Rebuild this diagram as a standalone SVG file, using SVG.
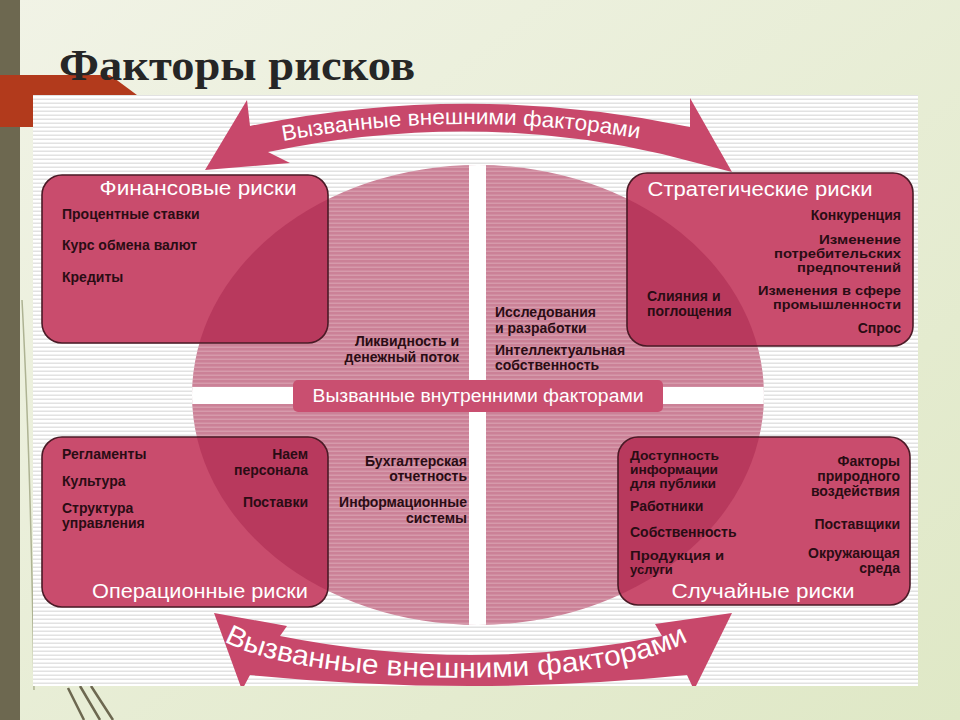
<svg xmlns="http://www.w3.org/2000/svg" width="960" height="720" viewBox="0 0 960 720">
<defs>
<linearGradient id="bg" x1="0" y1="0" x2="1" y2="1">
<stop offset="0" stop-color="#f1f3e6"/>
<stop offset="1" stop-color="#dfe8c6"/>
</linearGradient>
<pattern id="stripes" width="8" height="4" patternUnits="userSpaceOnUse">
<rect width="8" height="4" fill="#ffffff"/>
<rect y="2.5" width="8" height="1.5" fill="#e2e2e2"/>
</pattern>
<pattern id="pstr" width="8" height="4" patternUnits="userSpaceOnUse">
<rect width="8" height="4" fill="#cb8197"/>
<rect y="2.5" width="8" height="1.5" fill="#d69aab"/>
</pattern>
<clipPath id="ellClip"><ellipse cx="478" cy="395" rx="286" ry="230"/></clipPath>
<clipPath id="panelClip"><rect x="33" y="95" width="885" height="591"/></clipPath>
<style>
.box{fill:#c94c6d}
.ov{fill:#b8395d}
.edge{fill:none;stroke:#4a1a26;stroke-width:1.6}
.title{font-family:"Liberation Sans",Arial,sans-serif;font-size:20px;fill:#ffffff}
.it{font-family:"Liberation Sans",Arial,sans-serif;font-size:14px;font-weight:bold;fill:#2a0c14}
.sm{font-size:13px}
.end{text-anchor:end}
.arr{fill:#c8486b}
.atext{font-family:"Liberation Sans",Arial,sans-serif;fill:#ffffff}
</style>
</defs>

<g id="background">
<rect width="960" height="720" fill="url(#bg)"/>
<rect x="0" y="0" width="20" height="720" fill="#6d6850"/>
<path d="M22,300 Q31,470 34,690" fill="none" stroke="#aeb393" stroke-width="1.5"/>
<path d="M68,688 L84,720 M80,686 L100,720 M91,686 L113,720" fill="none" stroke="#6d6850" stroke-width="2.5"/>
<polygon points="0,75 110,75 180,127 0,127" fill="#b23a1c"/>
</g>

<g id="title">
<text x="59" y="80" font-family="'Liberation Serif','Times New Roman',serif" font-weight="bold" font-size="44" fill="#262626" textLength="356" lengthAdjust="spacingAndGlyphs">Факторы рисков</text>
</g>

<g id="panel">
<rect x="33" y="95" width="885" height="591" fill="url(#stripes)"/>
</g>

<g id="core">
<ellipse cx="478" cy="395" rx="286" ry="230" fill="url(#pstr)"/>
<g clip-path="url(#ellClip)" fill="#ffffff">
<rect x="469" y="150" width="17" height="490"/>
<rect x="180" y="387" width="600" height="17"/>
</g>
</g>

<g id="internal">
<rect x="293" y="380" width="370" height="32" rx="5" fill="#c94f70"/>
<text x="478" y="402" text-anchor="middle" class="atext" font-size="18" textLength="331" lengthAdjust="spacingAndGlyphs">Вызванные внутренними факторами</text>
</g>

<g id="center-texts">
<text class="it end" x="459" y="346">Ликвидность и</text>
<text class="it end" x="459" y="362">денежный поток</text>
<text class="it" x="495" y="317">Исследования</text>
<text class="it" x="495" y="333">и разработки</text>
<text class="it" x="495" y="355">Интеллектуальная</text>
<text class="it" x="495" y="370">собственность</text>
<text class="it end" x="467" y="466">Бухгалтерская</text>
<text class="it end" x="467" y="481">отчетность</text>
<text class="it end" x="467" y="507">Информационные</text>
<text class="it end" x="467" y="523">системы</text>
</g>

<g id="financial">
<rect class="box" x="42" y="175" width="286" height="168" rx="20"/>
<rect class="ov" x="42" y="175" width="286" height="168" rx="20" clip-path="url(#ellClip)"/>
<rect class="edge" x="42" y="175" width="286" height="168" rx="20"/>
<text class="title" x="198" y="195" text-anchor="middle" textLength="197" lengthAdjust="spacingAndGlyphs">Финансовые риски</text>
<text class="it" x="62" y="219">Процентные ставки</text>
<text class="it" x="62" y="250">Курс обмена валют</text>
<text class="it" x="62" y="282">Кредиты</text>
</g>

<g id="strategic">
<rect class="box" x="627" y="173" width="286" height="173" rx="20"/>
<rect class="ov" x="627" y="173" width="286" height="173" rx="20" clip-path="url(#ellClip)"/>
<rect class="edge" x="627" y="173" width="286" height="173" rx="20"/>
<text class="title" x="760" y="196" text-anchor="middle" textLength="225" lengthAdjust="spacingAndGlyphs">Стратегические риски</text>
<text class="it end" x="901" y="220">Конкуренция</text>
<text class="it sm end" x="901" y="244" textLength="82" lengthAdjust="spacingAndGlyphs">Изменение</text>
<text class="it sm end" x="901" y="258" textLength="127" lengthAdjust="spacingAndGlyphs">потребительских</text>
<text class="it sm end" x="901" y="272" textLength="104" lengthAdjust="spacingAndGlyphs">предпочтений</text>
<text class="it sm end" x="901" y="295" textLength="143" lengthAdjust="spacingAndGlyphs">Изменения в сфере</text>
<text class="it sm end" x="901" y="309" textLength="128" lengthAdjust="spacingAndGlyphs">промышленности</text>
<text class="it end" x="901" y="333">Спрос</text>
<text class="it" x="647" y="301">Слияния и</text>
<text class="it" x="647" y="316">поглощения</text>
</g>

<g id="operational">
<rect class="box" x="42" y="437" width="286" height="170" rx="20"/>
<rect class="ov" x="42" y="437" width="286" height="170" rx="20" clip-path="url(#ellClip)"/>
<rect class="edge" x="42" y="437" width="286" height="170" rx="20"/>
<text class="title" x="200" y="598" text-anchor="middle" textLength="216" lengthAdjust="spacingAndGlyphs">Операционные риски</text>
<text class="it" x="62" y="459">Регламенты</text>
<text class="it" x="62" y="486">Культура</text>
<text class="it" x="62" y="513">Структура</text>
<text class="it" x="62" y="528">управления</text>
<text class="it end" x="308" y="459">Наем</text>
<text class="it end" x="308" y="475">персонала</text>
<text class="it end" x="308" y="507">Поставки</text>
</g>

<g id="random">
<rect class="box" x="618" y="437" width="292" height="168" rx="20"/>
<rect class="ov" x="618" y="437" width="292" height="168" rx="20" clip-path="url(#ellClip)"/>
<rect class="edge" x="618" y="437" width="292" height="168" rx="20"/>
<text class="title" x="763" y="598" text-anchor="middle" textLength="183" lengthAdjust="spacingAndGlyphs">Случайные риски</text>
<text class="it sm" x="630" y="460" textLength="89" lengthAdjust="spacingAndGlyphs">Доступность</text>
<text class="it sm" x="630" y="474" textLength="88" lengthAdjust="spacingAndGlyphs">информации</text>
<text class="it sm" x="630" y="488" textLength="86" lengthAdjust="spacingAndGlyphs">для публики</text>
<text class="it" x="630" y="511">Работники</text>
<text class="it" x="630" y="537">Собственность</text>
<text class="it sm" x="630" y="560" textLength="94" lengthAdjust="spacingAndGlyphs">Продукция и</text>
<text class="it sm" x="630" y="574">услуги</text>
<text class="it end" x="900" y="466">Факторы</text>
<text class="it end" x="900" y="481">природного</text>
<text class="it end" x="900" y="496">воздействия</text>
<text class="it end" x="900" y="529">Поставщики</text>
<text class="it end" x="900" y="558">Окружающая</text>
<text class="it end" x="900" y="573">среда</text>
</g>

<g id="connectors">
<path id="topArrow" class="arr" d="M205,170 L247,100 L250,126 Q470,81 690,127 L690,98 L732,172 L662,154 Q470,110 268,152 L290,163 Z"/>
<path id="topTextPath" d="M283,141 Q462,108 642,139" fill="none"/>
<text class="atext" font-size="22"><textPath href="#topTextPath" textLength="358" lengthAdjust="spacingAndGlyphs">Вызванные внешними факторами</textPath></text>
<g clip-path="url(#panelClip)">
<path id="bottomArrow" class="arr" d="M214,613 L287,626 L280,636 Q471,674 662,636 L655,624 L732,613 L694,690 L687,675 Q471,697 250,675 L242,690 Z"/>
</g>
<path id="botTextPath" d="M224,641 C300,686 600,694 690,640" fill="none"/>
<text class="atext" font-size="28"><textPath href="#botTextPath" textLength="474" lengthAdjust="spacingAndGlyphs">Вызванные внешними факторами</textPath></text>
</g>
</svg>
